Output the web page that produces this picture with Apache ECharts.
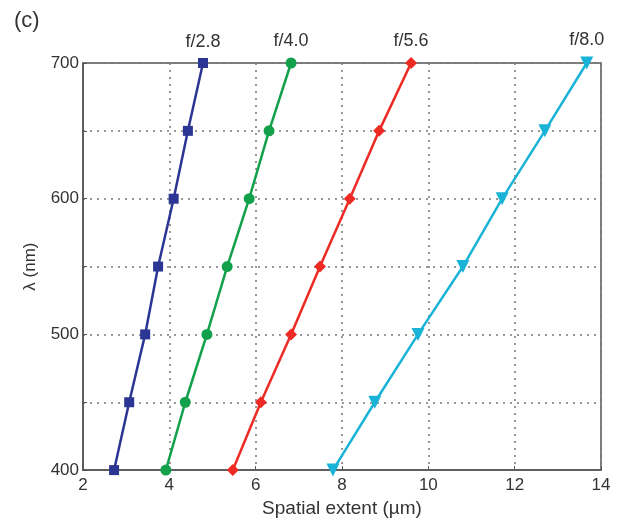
<!DOCTYPE html>
<html>
<head>
<meta charset="utf-8">
<script src="https://cdn.jsdelivr.net/npm/echarts@6/dist/echarts.min.js"></script>
<style>
html,body{margin:0;padding:0;background:#fff;}
#c{width:619px;height:523px;}
</style>
</head>
<body>
<div id="c"></div>
<script>
const wavelengths = [400, 450, 500, 550, 600, 650, 700];
const seriesNames = ['f/2.8', 'f/4.0', 'f/5.6', 'f/8.0'];
const f28 = [2.72, 3.07, 3.44, 3.74, 4.10, 4.43, 4.78];
const f40 = [3.92, 4.37, 4.87, 5.34, 5.85, 6.31, 6.82];
const f56 = [5.47, 6.12, 6.82, 7.49, 8.18, 8.86, 9.60];
const f80 = [7.79, 8.76, 9.76, 10.80, 11.71, 12.70, 13.67];
const xTicks = [2, 4, 6, 8, 10, 12, 14];
const yTickLabels = [400, 500, 600, 700];

const values = [f28, f40, f56, f80];
const colors = ['#2b3593', '#12a14a', '#ee2a24', '#1ab3d8'];
const symbols = ['rect', 'circle', 'diamond', 'triangle'];
const sizes = [10, 11, 12, 13];
const rotates = [0, 0, 0, 180];

const chart = echarts.init(document.getElementById('c'));
const font = 'Liberation Sans, Arial, sans-serif';

const series = values.map((xs, i) => ({
  name: seriesNames[i],
  type: 'line',
  data: xs.map((x, j) => {
    const item = { value: [x, wavelengths[j]] };
    if (j === xs.length - 1) {
      item.label = {
        show: true, position: 'top', distance: 7,
        formatter: seriesNames[i],
        color: '#333', fontSize: 18, fontFamily: font
      };
    }
    return item;
  }),
  symbol: symbols[i],
  symbolSize: sizes[i],
  symbolRotate: rotates[i],
  lineStyle: { color: colors[i], width: 2.5 },
  itemStyle: { color: colors[i] },
  label: { show: false },
  z: 5,
  clip: false
}));

chart.setOption({
  animation: false,
  backgroundColor: '#fff',
  title: {
    text: '(c)', left: 9, top: 5,
    textStyle: { fontFamily: font, fontSize: 22, fontWeight: 'normal', color: '#333' }
  },
  grid: {
    left: 83, right: 18, top: 63, bottom: 50,
    show: true, borderColor: '#555', borderWidth: 1.5, backgroundColor: 'transparent'
  },
  xAxis: {
    type: 'value', min: xTicks[0], max: xTicks[xTicks.length - 1], interval: 2,
    name: 'Spatial extent (\u00b5m)', nameLocation: 'middle', nameGap: 18,
    nameTextStyle: { fontFamily: font, fontSize: 19, color: '#333' },
    axisLine: { show: true, lineStyle: { color: '#555', width: 1.5 } },
    axisTick: { show: true, inside: true, length: 4, lineStyle: { color: '#555' } },
    axisLabel: { fontFamily: font, fontSize: 17, color: '#333', margin: 7 },
    splitLine: { show: true, lineStyle: { color: '#777', type: [2, 5], width: 1.5 } }
  },
  yAxis: {
    type: 'value', min: 400, max: 700, interval: 50,
    name: '\u03bb (nm)', nameLocation: 'middle', nameGap: 44, nameRotate: 90,
    nameTextStyle: { fontFamily: font, fontSize: 17, color: '#333' },
    axisLine: { show: true, lineStyle: { color: '#555', width: 1.5 } },
    axisTick: { show: true, inside: true, length: 4, lineStyle: { color: '#555' } },
    axisLabel: {
      fontFamily: font, fontSize: 17, color: '#333', margin: 4,
      formatter: v => (yTickLabels.indexOf(v) >= 0 ? String(v) : '')
    },
    splitLine: { show: true, lineStyle: { color: '#777', type: [2, 5], width: 1.5 } }
  },
  series: series
});
</script>
</body>
</html>
